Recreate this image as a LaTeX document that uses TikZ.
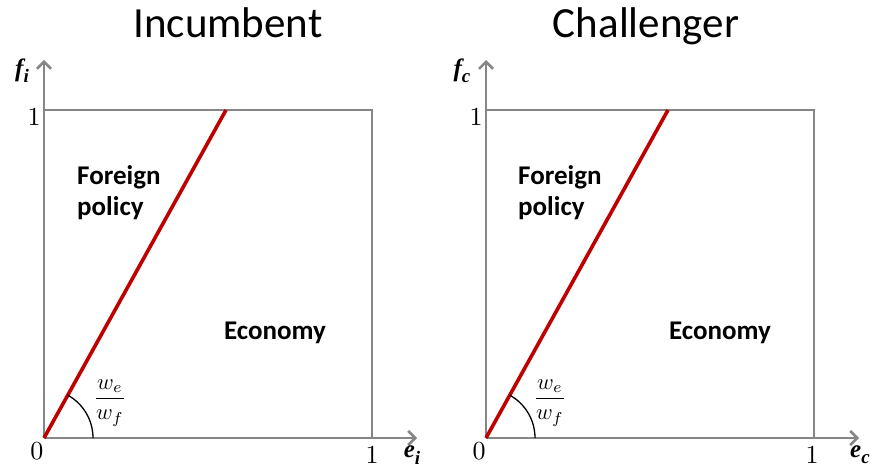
\documentclass[tikz,border=0pt]{standalone}
\usepackage{fontspec}
\usepackage{amsmath}
\setmainfont{Carlito}
\newfontfamily\ejefont{Liberation Serif}
\usetikzlibrary{positioning}
\usetikzlibrary{arrows.meta}
\usetikzlibrary{calc}

\tikzset{
    eje/.style={draw=gray!95, line width=2.6pt, -{Straight Barb[length=7pt,width=14pt]}},
    marco/.style={draw=gray!95, line width=2.6pt},
    frontera/.style={draw=red!75!black, line width=3.6pt},
    titulo/.style={font=\fontsize{43}{50}\selectfont, anchor=base},
    region/.style={font=\fontsize{27}{31}\selectfont\bfseries, align=left, inner sep=0pt},
    marca/.style={scale=2.6, inner sep=0pt},
    ejelabel/.style={font=\fontsize{25}{28}\selectfont\ejefont\bfseries\itshape, inner sep=0pt},
    fraccion/.style={scale=2.25, inner sep=0pt}
}
\newcommand{\sub}[1]{\raisebox{-0.25em}{\fontsize{19}{20}\selectfont #1}}

\begin{document}
\begin{tikzpicture}[x=1pt, y=1pt]

        % Lienzo
        \useasboundingbox (0,0) rectangle (873,467);

        % Panel izquierdo: Incumbent
        \coordinate (oi) at (44,29);
        \coordinate (yi) at (44,407);
        \coordinate (xi) at (417,29);
        \coordinate (ci) at (372,357);
        \coordinate (ri) at (226,357);

        \draw[marco] (44,357) -- (ci) -- (372,29);
        \draw[eje] (oi) -- (yi);
        \draw[eje] (oi) -- (xi);
        \draw[frontera] (oi) -- (ri);
        \draw[line width=1.3pt] ($(oi)+(49,0)$) arc (0:61:49);

        \node[titulo] (titi) at (228,429) {Incumbent};
        \node[region, anchor=west] (exti) at (77,274) {Foreign\\policy};
        \node[region] (econi) at (275,134) {Economy};
        \node[fraccion] (fraci) at (110,64) {$\dfrac{w_e}{w_f}$};
        \node[ejelabel] (fi) at (22,396) {f\sub{i}};
        \node[ejelabel] (ei) at (412,12) {e\sub{i}};
        \node[marca] (unoyi) at (34,350) {$1$};
        \node[marca] (ceroi) at (37,16) {$0$};
        \node[marca] (unoxi) at (372,12) {$1$};

        % Panel derecho: Challenger
        \coordinate (oc) at (486,29);
        \coordinate (yc) at (486,407);
        \coordinate (xc) at (859,29);
        \coordinate (cc) at (814,357);
        \coordinate (rc) at (668,357);

        \draw[marco] (486,357) -- (cc) -- (814,29);
        \draw[eje] (oc) -- (yc);
        \draw[eje] (oc) -- (xc);
        \draw[frontera] (oc) -- (rc);
        \draw[line width=1.3pt] ($(oc)+(49,0)$) arc (0:61:49);

        \node[titulo] (titc) at (646,429) {Challenger};
        \node[region, anchor=west] (extc) at (518,274) {Foreign\\policy};
        \node[region] (econc) at (720,134) {Economy};
        \node[fraccion] (fracc) at (550,64) {$\dfrac{w_e}{w_f}$};
        \node[ejelabel] (fc) at (462,396) {f\sub{c}};
        \node[ejelabel] (ec) at (860,12) {e\sub{c}};
        \node[marca] (unoyc) at (476,350) {$1$};
        \node[marca] (ceroc) at (479,16) {$0$};
        \node[marca] (unoxc) at (812,12) {$1$};

    \end{tikzpicture}
\end{document}
